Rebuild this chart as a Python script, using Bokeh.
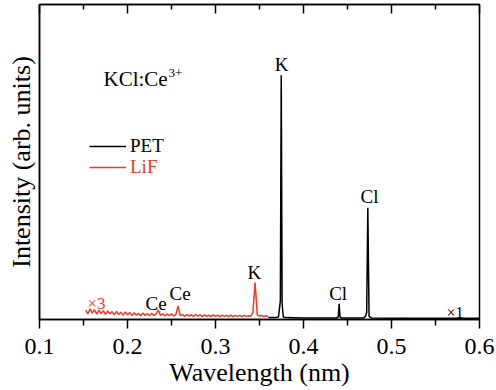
from bokeh.plotting import figure
from bokeh.models import (Range1d, LinearAxis, FixedTicker, Label, Legend, LegendItem)
from bokeh.embed import file_html
from bokeh.resources import INLINE

# LiF crystal scan (scaled x3), wavelength in nm
lif_wl = [0.1525, 0.155, 0.1575, 0.16, 0.1625, 0.165, 0.1675, 0.17, 0.1725, 0.175,
          0.1775, 0.18, 0.1825, 0.185, 0.1875, 0.19, 0.1925, 0.195, 0.1975, 0.2,
          0.2025, 0.205, 0.2075, 0.21, 0.2125, 0.215, 0.2175, 0.22, 0.2225, 0.225,
          0.2275, 0.23, 0.2325, 0.235, 0.2375, 0.24, 0.2425, 0.245, 0.2475, 0.25,
          0.2525, 0.255, 0.2575, 0.26, 0.2625, 0.265, 0.2675, 0.27, 0.2725, 0.275,
          0.2775, 0.28, 0.2825, 0.285, 0.2875, 0.29, 0.2925, 0.295, 0.2975, 0.3,
          0.3025, 0.305, 0.3075, 0.31, 0.3125, 0.315, 0.3175, 0.32, 0.3225, 0.325,
          0.3275, 0.33, 0.3325, 0.335, 0.3375, 0.34, 0.3425, 0.345, 0.3475, 0.35,
          0.3525, 0.355, 0.3575, 0.36]
lif_int = [0.030, 0.018, 0.034, 0.020, 0.031, 0.017, 0.029, 0.019, 0.028, 0.016,
           0.027, 0.018, 0.025, 0.015, 0.026, 0.016, 0.023, 0.014, 0.024, 0.015,
           0.022, 0.013, 0.021, 0.014, 0.020, 0.012, 0.021, 0.013, 0.019, 0.012,
           0.020, 0.013, 0.018, 0.030, 0.013, 0.018, 0.011, 0.017, 0.012, 0.018,
           0.011, 0.016, 0.043, 0.012, 0.016, 0.010, 0.016, 0.011, 0.015, 0.010,
           0.016, 0.011, 0.015, 0.009, 0.015, 0.010, 0.014, 0.009, 0.015, 0.010,
           0.014, 0.009, 0.014, 0.010, 0.013, 0.009, 0.014, 0.009, 0.013, 0.010,
           0.013, 0.009, 0.013, 0.010, 0.012, 0.011, 0.022, 0.117, 0.014, 0.011,
           0.013, 0.009, 0.012, 0.010]

# PET crystal scan (x1)
pet_wl = [0.360, 0.368, 0.3715, 0.3725, 0.3737, 0.3747, 0.3757, 0.377, 0.380, 0.400,
          0.438, 0.4395, 0.4405, 0.4415, 0.443, 0.468, 0.4705, 0.4718, 0.4731, 0.4745,
          0.477, 0.520, 0.600]
pet_int = [0.006, 0.006, 0.008, 0.030, 0.060, 0.775, 0.050, 0.008, 0.006, 0.005,
           0.005, 0.008, 0.050, 0.008, 0.005, 0.005, 0.010, 0.022, 0.355, 0.010,
           0.005, 0.004, 0.004]

x_ticks = [0.1, 0.2, 0.3, 0.4, 0.5, 0.6]
x_minor = [0.15, 0.25, 0.35, 0.45, 0.55]

RED = "#ee3b2a"
FONT = "Liberation Serif"

p = figure(width=496, height=390, output_backend="svg", toolbar_location=None,
           x_range=Range1d(0.1, 0.6), y_range=Range1d(0, 1))
p.min_border_left = 39
p.min_border_right = 17
p.min_border_top = 4
p.min_border_bottom = 71
p.grid.visible = False
p.outline_line_color = "black"
p.outline_line_width = 1.5

ticker = FixedTicker(ticks=x_ticks, minor_ticks=x_minor)

xa = p.xaxis[0]
xa.ticker = ticker
xa.axis_label = "Wavelength (nm)"
xa.axis_label_text_font = FONT
xa.axis_label_text_font_size = "26px"
xa.axis_label_text_font_style = "normal"
xa.axis_label_text_color = "black"
xa.axis_label_standoff = 1
xa.major_label_text_font = FONT
xa.major_label_text_font_size = "24px"
xa.major_label_text_color = "black"
xa.major_label_standoff = 10
xa.major_tick_out = 9
xa.major_tick_in = 0
xa.minor_tick_out = 6
xa.minor_tick_in = 0
xa.axis_line_width = 1.5
xa.major_tick_line_width = 1.5
xa.minor_tick_line_width = 1.5

ya = p.yaxis[0]
ya.ticker = FixedTicker(ticks=[])
ya.major_tick_out = 0
ya.minor_tick_out = 0
ya.axis_label = "Intensity (arb. units)"
ya.axis_label_text_font = FONT
ya.axis_label_text_font_size = "26px"
ya.axis_label_text_font_style = "normal"
ya.axis_label_text_color = "black"
ya.axis_label_standoff = 4
ya.axis_line_width = 1.5

# mirrored ticks along the top edge, pointing into the frame
top = LinearAxis(ticker=ticker, major_label_text_font_size="1px",
                 major_label_text_font=FONT, major_label_text_alpha=0,
                 major_tick_in=9, major_tick_out=0, minor_tick_in=5, minor_tick_out=0,
                 axis_line_width=1.5,
                 major_tick_line_width=1.5, minor_tick_line_width=1.5)
p.add_layout(top, "above")

r_lif = p.line(lif_wl, lif_int, line_color=RED, line_width=1.5)
r_pet = p.line(pet_wl, pet_int, line_color="black", line_width=1.5)

leg_pet = Legend(items=[LegendItem(label="PET", renderers=[r_pet])],
                 location=(50, 162), padding=0, margin=0,
                 glyph_width=37, glyph_height=20, label_height=20, label_standoff=4,
                 label_text_font=FONT, label_text_font_size="19px",
                 label_text_color="black", border_line_alpha=0,
                 background_fill_alpha=0)
leg_lif = Legend(items=[LegendItem(label="LiF", renderers=[r_lif])],
                 location=(50, 141), padding=0, margin=0,
                 glyph_width=37, glyph_height=20, label_height=20, label_standoff=4,
                 label_text_font=FONT, label_text_font_size="19px",
                 label_text_color=RED, border_line_alpha=0,
                 background_fill_alpha=0)
p.add_layout(leg_pet)
p.add_layout(leg_lif)


def note(x, y, text, size="19px", color="black", align="left"):
    p.add_layout(Label(x=x, y=y, text=text, text_font=FONT, text_font_size=size,
                       text_color=color, text_align=align,
                       text_baseline="alphabetic"))


note(0.1727, 0.762, "KCl:Ce", size="21px")
note(0.2466, 0.781, "3+", size="13px")
note(0.375, 0.8095, "K", align="center")
note(0.475, 0.390, "Cl", align="center")
note(0.4394, 0.0825, "Cl", align="center")
note(0.5625, 0.022, "\u00d71", size="16px")
note(0.1545, 0.0508, "\u00d73", size="17px", color=RED)
note(0.2205, 0.0508, "Ce")
note(0.2477, 0.0825, "Ce")
note(0.3443, 0.149, "K", align="center")

open("out.html", "w").write(file_html(p, INLINE))
